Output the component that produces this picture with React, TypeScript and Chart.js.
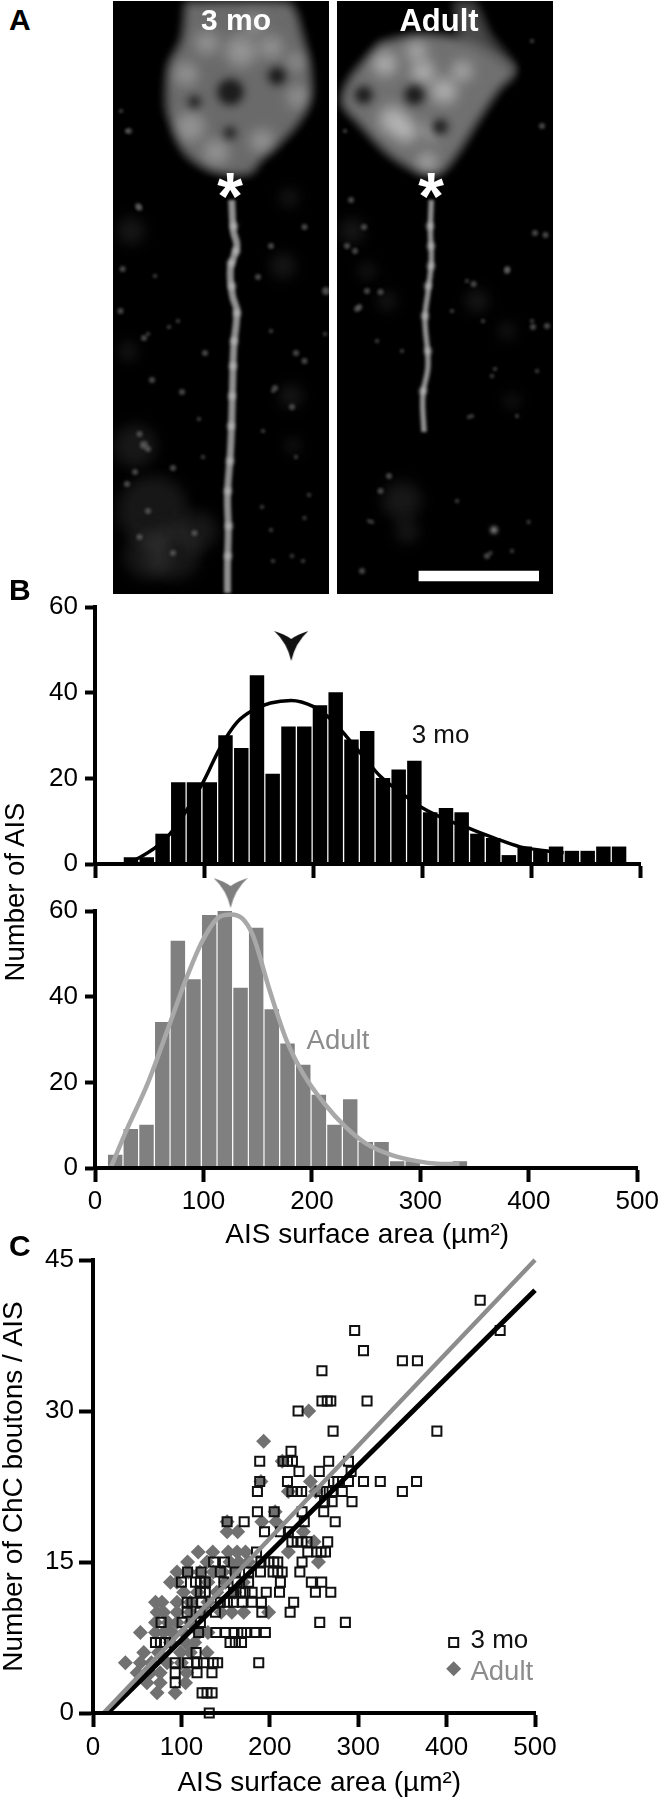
import React, { useEffect, useRef } from "react";
import { Chart, registerables } from "chart.js";

const blurPlugin = {
  id: "datasetBlur",
  beforeDatasetDraw(chart: any, args: any) {
    const b = chart.data.datasets[args.index].blur;
    chart.ctx.save();
    if (b) chart.ctx.filter = `blur(${b}px)`;
  },
  afterDatasetDraw(chart: any) {
    chart.ctx.restore();
  },
};
Chart.register(blurPlugin as any);
Chart.register(...registerables);

const SANS = '"Liberation Sans", Arial, sans-serif';

// ---------- Panel B: histograms ----------
const binCenters = [18.6, 33, 47.5, 62, 76.4, 90.8, 105.3, 119.7, 134.2, 148.6, 163, 177.5, 192, 206.4, 220.8, 235.3, 249.7, 264.2, 278.6, 293, 307.5, 322, 336.4, 350.8, 365.3, 379.7, 394.2, 408.6, 423, 437.5, 452, 466.4, 480.8];
const threeMoCounts = [0, 1.5, 1.5, 7, 19, 19, 19, 30, 27, 44, 21, 32, 32, 37, 40, 29, 31, 20, 22, 24, 12, 13, 12, 7, 6, 2, 4, 3, 4, 3, 3, 4, 4];
const adultCounts = [3, 9, 10, 34, 53, 44, 59, 60, 42, 56, 37, 29, 24, 17, 10, 16, 6, 6, 1.5, 1.5, 0, 0, 1.5];

const threeMoFitX = [29, 41, 68, 99, 114.5, 130, 145.6, 161, 180, 200, 215.5, 231, 246.5, 262, 281.5, 301, 320, 343.5, 367, 390, 413, 430];
const threeMoFitY = [0.3, 1.5, 6.8, 19, 27, 33, 36, 37.6, 38.2, 36.8, 34, 29.7, 25, 20.4, 16.5, 13, 10.6, 8.3, 6, 4, 3.1, 2.6];
const adultFitX = [14.4, 29, 48.5, 68, 83.5, 99, 114.5, 125.4, 136, 145.6, 161, 176.6, 192, 211.6, 231, 250, 273.7, 297, 316, 336];
const adultFitY = [0, 8.8, 19.7, 33, 43.8, 53, 58.6, 59.2, 58.2, 54.3, 41.5, 29.8, 22, 15, 9.6, 5.7, 3, 1.6, 1, 0.9];

const threeMoPeak = { x: 180, y: 50.9 };
const adultPeak = { x: 125, y: 64.2 };

const histXTicks = [0, 100, 200, 300, 400, 500];
const histYTicks = [0, 20, 40, 60];
const scatterYTicks = [0, 15, 30, 45];

// ---------- Panel C: scatter, one row per bouton count ----------
const threeMoRows: [number, number[]][] = [
  [41, [438]],
  [38, [460.6, 296]],
  [36, [306]],
  [35, [350, 367]],
  [34, [259]],
  [31, [259, 265, 269, 310]],
  [30, [232]],
  [28, [271.6, 389]],
  [26, [224]],
  [25, [188.6, 215, 220, 225.6, 266.6, 289]],
  [24, [233, 256, 292]],
  [23, [188.6, 220, 272, 277, 289, 306, 325, 366]],
  [22, [186, 225, 231, 236, 257, 264, 270.5, 282, 350]],
  [21, [262, 270.5, 293]],
  [20, [186, 205, 236.5, 261]],
  [19, [151.7, 171, 239, 274]],
  [18, [194, 212, 221]],
  [17, [225, 231, 236.5, 242, 265.5]],
  [16, [185, 243, 253, 258, 263]],
  [15, [136.5, 148.7, 190, 199, 204.5, 209, 236.5]],
  [14, [107, 122.3, 144, 161, 176, 189.4, 203.7, 209, 214, 234]],
  [13, [100, 116, 121.5, 127, 148, 163, 176, 212, 247, 258.7]],
  [12, [121.5, 127, 159, 167, 172, 180, 196, 211, 251.6, 269]],
  [11, [106.5, 112, 123, 144, 152, 159, 168.7, 180, 190.5, 227]],
  [10, [106.5, 121, 138.5, 191, 223]],
  [9, [77, 100.8, 121.5, 256.5, 285.5]],
  [8, [119.5, 139, 150, 159.5, 168, 174, 183, 195]],
  [7, [70.7, 76.3, 82, 155, 161, 168]],
  [6, [116.6]],
  [5, [93, 107, 117.7, 125, 136, 141, 187.5]],
  [4, [93, 117.7, 134.6]],
  [3, [93]],
  [2, [123.4, 129, 134.7]],
  [0, [131.5]],
];
const adultRows: [number, number[]][] = [
  [30, [244]],
  [27, [193]],
  [25, [214]],
  [23, [190, 246]],
  [22, [221, 252]],
  [20, [206]],
  [19, [151.7, 191, 207]],
  [18, [151.7, 163.7, 238]],
  [17, [250]],
  [16, [119, 135.5, 153, 163, 172.5, 221]],
  [15, [107, 129, 155, 165, 176, 255]],
  [14, [95, 108, 121, 136, 147, 160]],
  [13, [87.6, 95, 130, 150, 170]],
  [12, [102.5, 118, 140, 160]],
  [11, [70.7, 78, 95, 110, 130]],
  [10, [72.5, 80, 95, 110, 125, 145, 157, 170.5, 198.7]],
  [9, [70.7, 85, 95, 110]],
  [8, [53.6, 70.7, 80, 89.5, 102.7, 120, 130]],
  [7, [87.6, 104.7, 115]],
  [6, [57.4, 74, 99, 110, 129]],
  [5, [36.6, 53.6, 66, 83.8, 100]],
  [4, [50, 65, 76, 106]],
  [3, [61, 76, 104.7]],
  [2, [72.5, 93]],
];
const threeMoFitLine = [{ x: 16.5, y: 0 }, { x: 500, y: 42 }];
const adultFitLine = [{ x: 12, y: 0 }, { x: 500, y: 45 }];
const legendKeyThreeMo = [{ x: 408, y: 7 }];
const legendKeyAdult = [{ x: 408, y: 4.4 }];

// ---------- Panel A: micrographs, in panel units ----------
const soma3mo = [[73, 2], [174.5, 2], [189, 34.5], [198, 80.5], [191.5, 111], [174.5, 134], [149, 157], [136.5, 172], [102.6, 170.5], [73, 153], [60.4, 126], [54, 107], [56, 65], [69, 38]];
const somaAdult = [[43.5, 42], [79.5, 34.5], [124, 38], [149, 50], [176.7, 71], [162, 88], [141, 119], [119.7, 153], [102.8, 172], [81.6, 170.5], [52, 153], [22.4, 122.6], [5.5, 101.5], [14, 76.6]];
const somaTailAdult = [[118, 2], [136, 2], [152, 34], [178, 68], [150, 60], [125, 40]];
const axon3mo = [[118.7, 199], [120.4, 230], [123.8, 245], [117.4, 268], [119.6, 295], [123.8, 310], [120.8, 345], [119.6, 383], [118.7, 421], [117.4, 452], [114.5, 494], [115.3, 529], [114.5, 563], [114.5, 592]];
const axonAdult = [[94.3, 199], [93.4, 230], [94.3, 260.5], [91, 291], [88, 318], [91, 364], [85.8, 395], [87, 431]];
const beads3mo = [[121, 225], [123, 250], [118, 262], [119, 285], [124, 312], [121, 340], [120, 365], [119, 395], [118, 425], [117, 460], [115, 490], [116, 525], [115, 555]];
const beadsAdult = [[93, 225], [94, 245], [94, 265], [91, 285], [88, 315], [91, 350], [86, 390], [157, 529]];
const glow3mo = [[77, 126, 15], [103, 151, 13], [149, 140, 12], [185, 96, 11], [73, 73, 12], [128, 50, 16], [158, 46, 12], [183, 61, 9], [94, 42, 12], [141, 23, 10]];
const dark3mo = [[117.4, 91, 13], [164, 75, 9], [81.5, 101, 6], [117, 132, 6]];
const glowAdult = [[79.5, 50, 10], [86, 71, 12], [107, 90, 13], [56, 119, 14], [69, 130, 12], [48, 63, 12], [90, 161, 9], [125, 70, 10], [95, 130, 8]];
const darkAdult = [[77.4, 94, 10], [26.6, 94, 9], [103, 126, 8]];
const haze3mo = [[40, 510, 36], [60, 552, 28], [22, 445, 22], [18, 230, 14], [176, 197, 10], [170, 265, 13], [178, 395, 12], [180, 445, 8], [15, 350, 10], [35, 555, 24], [85, 530, 20]];
const hazeAdult = [[65, 500, 20], [70, 530, 12], [15, 230, 13], [30, 270, 9], [140, 300, 12], [50, 300, 10], [170, 330, 9], [175, 400, 8]];
const specks3mo = [[7.5, 310, 3], [35, 333, 2], [92, 352, 3], [183, 352, 3], [39, 379, 3], [69, 391, 3], [31, 444, 4], [60, 467, 3], [22, 471, 3], [86, 418, 2], [35, 510, 3], [81.5, 532, 3], [60, 552, 3], [26.5, 536, 3], [149, 506, 2], [183, 456, 2], [191.5, 517, 2], [158, 245, 3], [191.5, 226, 3], [145, 276, 3], [213, 290, 4], [212, 333, 2], [16, 130, 3], [8, 110, 2], [25, 205, 3], [160, 390, 2], [150, 430, 2], [190, 560, 2], [160, 560, 2], [65, 320, 2], [42, 275, 2], [14, 130, 2], [26.5, 207, 3], [9.6, 268, 3], [56, 326, 2], [31, 337, 3], [158, 330, 2], [191.5, 360, 3], [162, 387, 3], [179, 406, 3], [26.5, 433, 3], [35, 448, 3], [14, 483, 3], [90, 456, 2], [158, 529, 2], [196, 494, 2], [179, 555, 2]];
const specksAdult = [[198, 232, 3], [170, 270, 3], [146, 320, 2], [18, 250, 3], [30, 290, 3], [20, 308, 3], [40, 340, 2], [65, 350, 2], [210, 325, 3], [195, 320, 2], [155, 375, 2], [200, 370, 2], [130, 280, 2], [115, 310, 2], [175, 550, 2], [150, 555, 3], [8, 130, 2], [205, 125, 3], [195, 40, 2], [180, 415, 2], [135, 415, 2], [32, 520, 2], [25, 570, 3], [120, 500, 2], [14, 199, 3], [27, 226, 3], [10, 245, 3], [43.5, 291, 3], [22.4, 306, 3], [136.6, 283, 3], [170.4, 268, 3], [208.5, 234, 3], [196, 326, 3], [158, 368, 2], [43.5, 490, 3], [52, 475, 3], [35, 521, 2], [153.5, 552, 2], [191.6, 521, 2], [132, 416, 2]];
const scaleBar = [{ x: 81.6, y: 575 }, { x: 202, y: 575 }];

const xy = (xs: number[], ys: number[]) => xs.map((x, i) => ({ x, y: ys[i] }));
const rowsToPoints = (rows: [number, number[]][]) => rows.flatMap(([y, xs]) => xs.map((x) => ({ x, y })));
const pairs = (list: number[][]) => list.map(([x, y]) => ({ x, y }));
const blobs = (list: number[][]) => list.map(([x, y, r]) => ({ x, y, r }));

function arrowhead(color: string) {
  const c = document.createElement("canvas");
  c.width = 34;
  c.height = 30;
  const g = c.getContext("2d")!;
  g.fillStyle = color;
  g.beginPath();
  g.moveTo(0, 0);
  g.quadraticCurveTo(10, 3, 17, 8);
  g.quadraticCurveTo(24, 3, 34, 0);
  g.quadraticCurveTo(21, 12, 17, 30);
  g.quadraticCurveTo(13, 12, 0, 0);
  g.fill();
  return c;
}

const notesPlugin = {
  id: "notes",
  afterDatasetsDraw(chart: any, _a: any, opts: any) {
    const ctx = chart.ctx;
    (opts.items || []).forEach((n: any) => {
      ctx.save();
      ctx.font = `${n.size}px ${SANS}`;
      ctx.fillStyle = n.color;
      ctx.textAlign = n.align || "center";
      ctx.textBaseline = "middle";
      ctx.fillText(n.text, chart.scales.x.getPixelForValue(n.x), chart.scales.y.getPixelForValue(n.y));
      ctx.restore();
    });
  },
};

function axis(opts: any) {
  const { min, max, ticks, fontSize, tickLength, fit, title, showLabels = true } = opts;
  return {
    type: "linear",
    min,
    max,
    offset: false,
    afterBuildTicks: (s: any) => {
      s.ticks = ticks.map((value: number) => ({ value }));
    },
    afterFit: fit,
    border: { display: true, color: "#000", width: 4, z: 2 },
    grid: { offset: false, drawOnChartArea: false, drawTicks: true, tickLength, tickWidth: 4, tickColor: "#000", z: 2 },
    ticks: {
      display: showLabels,
      color: "#000",
      padding: opts.padding ?? 5,
      maxRotation: 0,
      autoSkip: false,
      font: { family: SANS, size: fontSize },
    },
    title: title
      ? {
          display: true,
          text: title,
          color: "#000",
          padding: opts.titlePadding ?? { top: 2, bottom: 0 },
          font: { family: SANS, size: 28, lineHeight: 1 },
        }
      : { display: false },
  };
}

const baseOptions = (padding: any, scales: any, notes: any[] = []) => ({
  animation: false,
  responsive: false,
  events: [],
  layout: { padding, autoPadding: false },
  plugins: { legend: { display: false }, tooltip: { enabled: false }, notes: { items: notes } },
  scales,
});

function micrograph(canvas: HTMLCanvasElement, p: any) {
  const datasets: any[] = [
    { type: "line", data: p.bar ?? [], borderColor: "#fff", borderWidth: 10.5, pointRadius: 0, borderCapStyle: "butt", order: 0 },
    { type: "bubble", data: blobs(p.beads.map((b: number[]) => [b[0], b[1], 3.5])), backgroundColor: "rgba(205,205,205,0.7)", blur: 2, order: 1 },
    { type: "line", data: pairs(p.axon), borderColor: "#8f8f8f", borderWidth: p.axonWidth, pointRadius: 0, tension: 0.4, blur: 1.6, order: 2 },
    { type: "bubble", data: blobs(p.dark), backgroundColor: "rgba(20,20,20,0.9)", blur: 4, order: 3 },
    { type: "bubble", data: blobs(p.glow), backgroundColor: p.glowColor, blur: 7, order: 4 },
    { type: "line", data: pairs([...p.soma, p.soma[0]]), backgroundColor: p.somaColor, borderColor: p.somaColor, borderWidth: 2, fill: "shape", pointRadius: 0, tension: 0.3, blur: 4, order: 5 },
    { type: "bubble", data: blobs(p.specks), backgroundColor: "rgba(125,125,125,0.6)", blur: 1.4, order: 6 },
    { type: "bubble", data: blobs(p.haze), backgroundColor: "rgba(70,70,70,0.32)", blur: 7, order: 7 },
  ];
  if (p.tail) {
    datasets.push({ type: "line", data: pairs([...p.tail, p.tail[0]]), backgroundColor: "#4a4a4a", borderColor: "#4a4a4a", fill: "shape", pointRadius: 0, tension: 0.3, blur: 4, order: 5.5 });
  }
  return new Chart(canvas, {
    type: "bubble",
    data: { datasets },
    options: {
      animation: false,
      responsive: false,
      events: [],
      layout: { padding: 0, autoPadding: false },
      plugins: { legend: { display: false }, tooltip: { enabled: false } },
      scales: {
        x: { type: "linear", display: false, min: 0, max: 216 },
        y: { type: "linear", display: false, min: 0, max: 593, reverse: true },
      },
    },
  } as any);
}

function histogram(canvas: HTMLCanvasElement, p: any) {
  const bars = xy(binCenters.slice(0, p.counts.length), p.counts).filter((d) => d.y > 0);
  return new Chart(canvas, {
    type: "bar",
    data: {
      datasets: [
        { type: "scatter", data: [p.peak], pointStyle: arrowhead(p.arrow), pointRadius: 30, clip: false, order: 0 },
        { type: "scatter", showLine: true, data: p.fit, borderColor: p.curve, borderWidth: p.curveWidth, pointRadius: 0, cubicInterpolationMode: "monotone", clip: false, order: 1 },
        { type: "bar", data: bars, backgroundColor: p.bar, barThickness: 13.8, order: 2 },
      ],
    },
    plugins: [notesPlugin],
    options: baseOptions(p.padding, {
      x: axis({ min: 0, max: 500, ticks: histXTicks, fontSize: 26, tickLength: 14, fit: (s: any) => (s.height = p.xHeight), showLabels: p.showX, padding: 4 }),
      y: axis({ min: 0, max: 60, ticks: histYTicks, fontSize: 26, tickLength: 10, fit: (s: any) => (s.width = 95), padding: 7 }),
    }, p.notes),
  } as any);
}

function scatter(canvas: HTMLCanvasElement) {
  const square = { pointStyle: "rect", pointRadius: 6.4, pointBorderWidth: 2, pointBorderColor: "#111", pointBackgroundColor: "rgba(0,0,0,0)" };
  const diamond = { pointStyle: "rectRot", pointRadius: 7.5, pointBorderWidth: 0, pointBackgroundColor: "#717171" };
  const fit = { showLine: true, pointRadius: 0, borderCapStyle: "butt", clip: false };
  return new Chart(canvas, {
    type: "scatter",
    data: {
      datasets: [
        { data: legendKeyThreeMo, ...square, order: 0 },
        { data: legendKeyAdult, ...diamond, order: 0 },
        { data: adultFitLine, ...fit, borderWidth: 4.5, borderColor: "#8c8c8c", order: 1 },
        { data: threeMoFitLine, ...fit, borderWidth: 5, borderColor: "#000", order: 2 },
        { data: rowsToPoints(threeMoRows), ...square, clip: false, order: 3 },
        { data: rowsToPoints(adultRows), ...diamond, clip: false, order: 4 },
      ],
    },
    plugins: [notesPlugin],
    options: baseOptions({ top: 36, right: 128, left: 0, bottom: 0 }, {
      x: axis({ min: 0, max: 500, ticks: histXTicks, fontSize: 26, tickLength: 14, fit: (s: any) => (s.height = 87), padding: 5 }),
      y: axis({ min: 0, max: 45, ticks: scatterYTicks, fontSize: 26, tickLength: 14, fit: (s: any) => (s.width = 93), title: "Number of ChC boutons / AIS", padding: 5, titlePadding: 0 }),
    }, [
      { text: "3 mo", x: 427, y: 7.2, size: 26, color: "#111", align: "left" },
      { text: "Adult", x: 427, y: 4.05, size: 27.5, color: "#8c8c8c", align: "left" },
      { text: "AIS surface area (µm²)", x: 256, y: -6.95, size: 28, color: "#000" },
    ]),
  } as any);
}

const abs = (left: number, top: number): React.CSSProperties => ({ position: "absolute", left, top, display: "block" });
const Letter = ({ t, x, y }: { t: string; x: number; y: number }) => (
  <div style={{ position: "absolute", left: x, top: y, transform: "translateY(-50%)", font: `bold 30px ${SANS}`, color: "#000", lineHeight: 1 }}>{t}</div>
);
const Over = ({ t, x, y, size }: { t: string; x: number; y: number; size: number }) => (
  <div style={{ position: "absolute", left: x, top: y, transform: "translate(-50%,-50%)", font: `bold ${size}px ${SANS}`, color: "#fff", lineHeight: 1, whiteSpace: "nowrap" }}>{t}</div>
);

export default function App() {
  const a1 = useRef<HTMLCanvasElement>(null);
  const a2 = useRef<HTMLCanvasElement>(null);
  const b1 = useRef<HTMLCanvasElement>(null);
  const b2 = useRef<HTMLCanvasElement>(null);
  const c = useRef<HTMLCanvasElement>(null);

  useEffect(() => {
    const charts = [
      micrograph(a1.current!, { soma: soma3mo, somaColor: "#6a6a6a", glow: glow3mo, glowColor: "rgba(190,190,190,0.5)", dark: dark3mo, axon: axon3mo, axonWidth: 7, beads: beads3mo, specks: specks3mo, haze: haze3mo }),
      micrograph(a2.current!, { soma: somaAdult, tail: somaTailAdult, somaColor: "#707070", glow: glowAdult, glowColor: "rgba(225,225,225,0.55)", dark: darkAdult, axon: axonAdult, axonWidth: 5.5, beads: beadsAdult, specks: specksAdult, haze: hazeAdult, bar: scaleBar }),
      histogram(b1.current!, {
        counts: threeMoCounts, peak: threeMoPeak, arrow: "#111", fit: xy(threeMoFitX, threeMoFitY), curve: "#000", curveWidth: 3.5, bar: "#000",
        padding: { top: 36, right: 23, left: 0, bottom: 0 }, xHeight: 26, showX: false,
        notes: [{ text: "3 mo", x: 317, y: 29.9, size: 26, color: "#111" }],
      }),
      histogram(b2.current!, {
        counts: adultCounts, peak: adultPeak, arrow: "#7f7f7f", fit: xy(adultFitX, adultFitY), curve: "#a8a8a8", curveWidth: 4.5, bar: "#808080",
        padding: { top: 40, right: 23, left: 0, bottom: 0 }, xHeight: 82, showX: true,
        notes: [
          { text: "Adult", x: 224, y: 29.5, size: 27.5, color: "#8c8c8c" },
          { text: "AIS surface area (µm²)", x: 251, y: -15.6, size: 28, color: "#000" },
        ],
      }),
      scatter(c.current!),
    ];
    return () => charts.forEach((ch) => ch.destroy());
  }, []);

  return (
    <div style={{ position: "absolute", left: 0, top: 0, width: 663, height: 1800, background: "#fff", overflow: "hidden" }}>
      <canvas ref={a1} width={216} height={593} style={{ ...abs(113, 1), background: "#000" }} />
      <canvas ref={a2} width={216} height={593} style={{ ...abs(337, 1), background: "#000" }} />
      <canvas ref={b1} width={663} height={319} style={abs(0, 571)} />
      <canvas ref={b2} width={663} height={379} style={abs(0, 871)} />
      <canvas ref={c} width={663} height={576} style={abs(0, 1224)} />
      <Letter t="A" x={9} y={20} />
      <Letter t="B" x={9} y={590} />
      <Letter t="C" x={9} y={1246} />
      <Over t="3 mo" x={236} y={20} size={30} />
      <Over t="Adult" x={439} y={20} size={31} />
      <Over t="*" x={230} y={196} size={66} />
      <Over t="*" x={431} y={196} size={66} />
      <div style={{ position: "absolute", left: 15, top: 892, transform: "translate(-50%,-50%) rotate(-90deg)", font: `27.5px ${SANS}`, color: "#000", whiteSpace: "nowrap", lineHeight: 1 }}>Number of AIS</div>
    </div>
  );
}
